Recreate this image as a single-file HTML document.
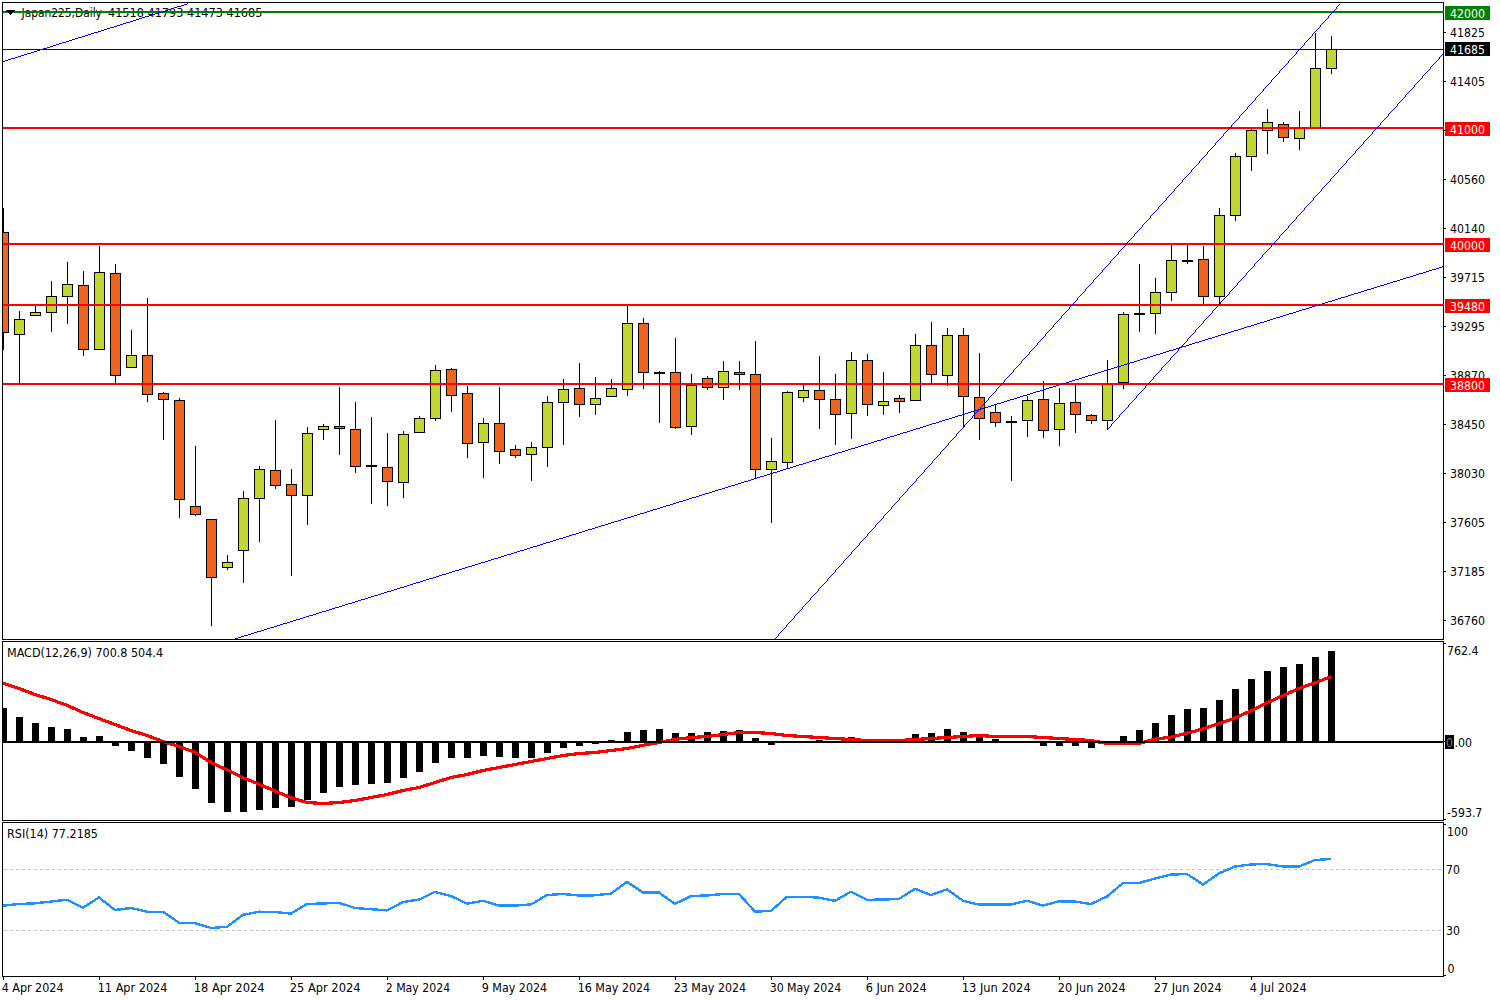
<!DOCTYPE html><html><head><meta charset="utf-8"><title>Japan225,Daily</title><style>html,body{margin:0;padding:0;background:#fff;width:1500px;height:1000px;overflow:hidden}svg{display:block}text{font-family:"DejaVu Sans Condensed", "DejaVu Sans", "Liberation Sans", sans-serif}</style></head><body><svg width="1500" height="1000" viewBox="0 0 1500 1000" shape-rendering="crispEdges" font-family='"DejaVu Sans Condensed", "DejaVu Sans", "Liberation Sans", sans-serif'><defs><clipPath id="cm"><rect x="3" y="3" width="1441" height="636"/></clipPath><clipPath id="cd"><rect x="3" y="642" width="1441" height="178"/></clipPath><clipPath id="cr"><rect x="3" y="823" width="1441" height="153"/></clipPath></defs><rect width="1500" height="1000" fill="#FFFFFF"/><g clip-path="url(#cm)"><rect x="3" y="208" width="1" height="142" fill="#000"/><rect x="-2" y="232" width="11" height="101" fill="#000"/><rect x="-1" y="233" width="9" height="99" fill="#F06421"/><rect x="19" y="311" width="1" height="73" fill="#000"/><rect x="14" y="319" width="11" height="16" fill="#000"/><rect x="15" y="320" width="9" height="14" fill="#C1D833"/><rect x="35" y="305" width="1" height="11" fill="#000"/><rect x="30" y="312" width="11" height="4" fill="#000"/><rect x="31" y="313" width="9" height="2" fill="#C1D833"/><rect x="51" y="281" width="1" height="51" fill="#000"/><rect x="46" y="296" width="11" height="17" fill="#000"/><rect x="47" y="297" width="9" height="15" fill="#C1D833"/><rect x="67" y="262" width="1" height="62" fill="#000"/><rect x="62" y="284" width="11" height="13" fill="#000"/><rect x="63" y="285" width="9" height="11" fill="#C1D833"/><rect x="83" y="271" width="1" height="85" fill="#000"/><rect x="78" y="285" width="11" height="65" fill="#000"/><rect x="79" y="286" width="9" height="63" fill="#F06421"/><rect x="99" y="246" width="1" height="104" fill="#000"/><rect x="94" y="272" width="11" height="78" fill="#000"/><rect x="95" y="273" width="9" height="76" fill="#C1D833"/><rect x="115" y="264" width="1" height="120" fill="#000"/><rect x="110" y="273" width="11" height="103" fill="#000"/><rect x="111" y="274" width="9" height="101" fill="#F06421"/><rect x="131" y="330" width="1" height="38" fill="#000"/><rect x="126" y="355" width="11" height="13" fill="#000"/><rect x="127" y="356" width="9" height="11" fill="#C1D833"/><rect x="147" y="298" width="1" height="104" fill="#000"/><rect x="142" y="355" width="11" height="40" fill="#000"/><rect x="143" y="356" width="9" height="38" fill="#F06421"/><rect x="163" y="392" width="1" height="48" fill="#000"/><rect x="158" y="393" width="11" height="7" fill="#000"/><rect x="159" y="394" width="9" height="5" fill="#F06421"/><rect x="179" y="398" width="1" height="120" fill="#000"/><rect x="174" y="400" width="11" height="100" fill="#000"/><rect x="175" y="401" width="9" height="98" fill="#F06421"/><rect x="195" y="446" width="1" height="70" fill="#000"/><rect x="190" y="506" width="11" height="9" fill="#000"/><rect x="191" y="507" width="9" height="7" fill="#F06421"/><rect x="211" y="519" width="1" height="107" fill="#000"/><rect x="206" y="519" width="11" height="59" fill="#000"/><rect x="207" y="520" width="9" height="57" fill="#F06421"/><rect x="227" y="555" width="1" height="15" fill="#000"/><rect x="222" y="562" width="11" height="6" fill="#000"/><rect x="223" y="563" width="9" height="4" fill="#C1D833"/><rect x="243" y="491" width="1" height="92" fill="#000"/><rect x="238" y="498" width="11" height="53" fill="#000"/><rect x="239" y="499" width="9" height="51" fill="#C1D833"/><rect x="259" y="466" width="1" height="76" fill="#000"/><rect x="254" y="469" width="11" height="30" fill="#000"/><rect x="255" y="470" width="9" height="28" fill="#C1D833"/><rect x="275" y="420" width="1" height="69" fill="#000"/><rect x="270" y="470" width="11" height="16" fill="#000"/><rect x="271" y="471" width="9" height="14" fill="#F06421"/><rect x="291" y="469" width="1" height="107" fill="#000"/><rect x="286" y="484" width="11" height="12" fill="#000"/><rect x="287" y="485" width="9" height="10" fill="#F06421"/><rect x="307" y="427" width="1" height="98" fill="#000"/><rect x="302" y="433" width="11" height="63" fill="#000"/><rect x="303" y="434" width="9" height="61" fill="#C1D833"/><rect x="323" y="424" width="1" height="16" fill="#000"/><rect x="318" y="426" width="11" height="4" fill="#000"/><rect x="319" y="427" width="9" height="2" fill="#C1D833"/><rect x="339" y="387" width="1" height="68" fill="#000"/><rect x="334" y="426" width="11" height="3" fill="#000"/><rect x="335" y="427" width="9" height="1" fill="#F06421"/><rect x="355" y="402" width="1" height="71" fill="#000"/><rect x="350" y="429" width="11" height="38" fill="#000"/><rect x="351" y="430" width="9" height="36" fill="#F06421"/><rect x="371" y="417" width="1" height="87" fill="#000"/><rect x="366" y="465" width="11" height="2" fill="#000"/><rect x="387" y="433" width="1" height="73" fill="#000"/><rect x="382" y="467" width="11" height="15" fill="#000"/><rect x="383" y="468" width="9" height="13" fill="#F06421"/><rect x="403" y="431" width="1" height="67" fill="#000"/><rect x="398" y="434" width="11" height="49" fill="#000"/><rect x="399" y="435" width="9" height="47" fill="#C1D833"/><rect x="419" y="416" width="1" height="17" fill="#000"/><rect x="414" y="418" width="11" height="15" fill="#000"/><rect x="415" y="419" width="9" height="13" fill="#C1D833"/><rect x="435" y="365" width="1" height="56" fill="#000"/><rect x="430" y="370" width="11" height="49" fill="#000"/><rect x="431" y="371" width="9" height="47" fill="#C1D833"/><rect x="451" y="368" width="1" height="44" fill="#000"/><rect x="446" y="369" width="11" height="27" fill="#000"/><rect x="447" y="370" width="9" height="25" fill="#F06421"/><rect x="467" y="386" width="1" height="72" fill="#000"/><rect x="462" y="393" width="11" height="51" fill="#000"/><rect x="463" y="394" width="9" height="49" fill="#F06421"/><rect x="483" y="418" width="1" height="60" fill="#000"/><rect x="478" y="423" width="11" height="20" fill="#000"/><rect x="479" y="424" width="9" height="18" fill="#C1D833"/><rect x="499" y="387" width="1" height="77" fill="#000"/><rect x="494" y="423" width="11" height="29" fill="#000"/><rect x="495" y="424" width="9" height="27" fill="#F06421"/><rect x="515" y="445" width="1" height="13" fill="#000"/><rect x="510" y="449" width="11" height="7" fill="#000"/><rect x="511" y="450" width="9" height="5" fill="#F06421"/><rect x="531" y="442" width="1" height="39" fill="#000"/><rect x="526" y="447" width="11" height="8" fill="#000"/><rect x="527" y="448" width="9" height="6" fill="#C1D833"/><rect x="547" y="396" width="1" height="71" fill="#000"/><rect x="542" y="402" width="11" height="46" fill="#000"/><rect x="543" y="403" width="9" height="44" fill="#C1D833"/><rect x="563" y="379" width="1" height="66" fill="#000"/><rect x="558" y="389" width="11" height="14" fill="#000"/><rect x="559" y="390" width="9" height="12" fill="#C1D833"/><rect x="579" y="363" width="1" height="54" fill="#000"/><rect x="574" y="388" width="11" height="17" fill="#000"/><rect x="575" y="389" width="9" height="15" fill="#F06421"/><rect x="595" y="377" width="1" height="38" fill="#000"/><rect x="590" y="398" width="11" height="7" fill="#000"/><rect x="591" y="399" width="9" height="5" fill="#C1D833"/><rect x="611" y="379" width="1" height="18" fill="#000"/><rect x="606" y="388" width="11" height="9" fill="#000"/><rect x="607" y="389" width="9" height="7" fill="#C1D833"/><rect x="627" y="306" width="1" height="90" fill="#000"/><rect x="622" y="323" width="11" height="67" fill="#000"/><rect x="623" y="324" width="9" height="65" fill="#C1D833"/><rect x="643" y="318" width="1" height="71" fill="#000"/><rect x="638" y="323" width="11" height="50" fill="#000"/><rect x="639" y="324" width="9" height="48" fill="#F06421"/><rect x="659" y="371" width="1" height="52" fill="#000"/><rect x="654" y="372" width="11" height="2" fill="#000"/><rect x="675" y="338" width="1" height="91" fill="#000"/><rect x="670" y="372" width="11" height="56" fill="#000"/><rect x="671" y="373" width="9" height="54" fill="#F06421"/><rect x="691" y="374" width="1" height="61" fill="#000"/><rect x="686" y="385" width="11" height="42" fill="#000"/><rect x="687" y="386" width="9" height="40" fill="#C1D833"/><rect x="707" y="376" width="1" height="14" fill="#000"/><rect x="702" y="378" width="11" height="10" fill="#000"/><rect x="703" y="379" width="9" height="8" fill="#F06421"/><rect x="723" y="361" width="1" height="39" fill="#000"/><rect x="718" y="371" width="11" height="17" fill="#000"/><rect x="719" y="372" width="9" height="15" fill="#C1D833"/><rect x="739" y="361" width="1" height="29" fill="#000"/><rect x="734" y="372" width="11" height="3" fill="#000"/><rect x="735" y="373" width="9" height="1" fill="#F06421"/><rect x="755" y="341" width="1" height="138" fill="#000"/><rect x="750" y="374" width="11" height="96" fill="#000"/><rect x="751" y="375" width="9" height="94" fill="#F06421"/><rect x="771" y="438" width="1" height="85" fill="#000"/><rect x="766" y="461" width="11" height="9" fill="#000"/><rect x="767" y="462" width="9" height="7" fill="#C1D833"/><rect x="787" y="391" width="1" height="78" fill="#000"/><rect x="782" y="392" width="11" height="71" fill="#000"/><rect x="783" y="393" width="9" height="69" fill="#C1D833"/><rect x="803" y="385" width="1" height="17" fill="#000"/><rect x="798" y="390" width="11" height="8" fill="#000"/><rect x="799" y="391" width="9" height="6" fill="#C1D833"/><rect x="819" y="356" width="1" height="73" fill="#000"/><rect x="814" y="390" width="11" height="10" fill="#000"/><rect x="815" y="391" width="9" height="8" fill="#F06421"/><rect x="835" y="374" width="1" height="71" fill="#000"/><rect x="830" y="399" width="11" height="16" fill="#000"/><rect x="831" y="400" width="9" height="14" fill="#F06421"/><rect x="851" y="352" width="1" height="87" fill="#000"/><rect x="846" y="360" width="11" height="54" fill="#000"/><rect x="847" y="361" width="9" height="52" fill="#C1D833"/><rect x="867" y="354" width="1" height="62" fill="#000"/><rect x="862" y="360" width="11" height="45" fill="#000"/><rect x="863" y="361" width="9" height="43" fill="#F06421"/><rect x="883" y="372" width="1" height="43" fill="#000"/><rect x="878" y="401" width="11" height="5" fill="#000"/><rect x="879" y="402" width="9" height="3" fill="#C1D833"/><rect x="899" y="395" width="1" height="18" fill="#000"/><rect x="894" y="398" width="11" height="4" fill="#000"/><rect x="895" y="399" width="9" height="2" fill="#F06421"/><rect x="915" y="334" width="1" height="67" fill="#000"/><rect x="910" y="345" width="11" height="56" fill="#000"/><rect x="911" y="346" width="9" height="54" fill="#C1D833"/><rect x="931" y="322" width="1" height="61" fill="#000"/><rect x="926" y="345" width="11" height="30" fill="#000"/><rect x="927" y="346" width="9" height="28" fill="#F06421"/><rect x="947" y="328" width="1" height="58" fill="#000"/><rect x="942" y="335" width="11" height="41" fill="#000"/><rect x="943" y="336" width="9" height="39" fill="#C1D833"/><rect x="963" y="328" width="1" height="100" fill="#000"/><rect x="958" y="335" width="11" height="62" fill="#000"/><rect x="959" y="336" width="9" height="60" fill="#F06421"/><rect x="979" y="353" width="1" height="87" fill="#000"/><rect x="974" y="397" width="11" height="22" fill="#000"/><rect x="975" y="398" width="9" height="20" fill="#F06421"/><rect x="995" y="404" width="1" height="23" fill="#000"/><rect x="990" y="412" width="11" height="11" fill="#000"/><rect x="991" y="413" width="9" height="9" fill="#F06421"/><rect x="1011" y="416" width="1" height="65" fill="#000"/><rect x="1006" y="421" width="11" height="2" fill="#000"/><rect x="1027" y="396" width="1" height="41" fill="#000"/><rect x="1022" y="400" width="11" height="21" fill="#000"/><rect x="1023" y="401" width="9" height="19" fill="#C1D833"/><rect x="1043" y="381" width="1" height="57" fill="#000"/><rect x="1038" y="399" width="11" height="32" fill="#000"/><rect x="1039" y="400" width="9" height="30" fill="#F06421"/><rect x="1059" y="388" width="1" height="58" fill="#000"/><rect x="1054" y="403" width="11" height="27" fill="#000"/><rect x="1055" y="404" width="9" height="25" fill="#C1D833"/><rect x="1075" y="385" width="1" height="48" fill="#000"/><rect x="1070" y="402" width="11" height="13" fill="#000"/><rect x="1071" y="403" width="9" height="11" fill="#F06421"/><rect x="1091" y="414" width="1" height="10" fill="#000"/><rect x="1086" y="415" width="11" height="6" fill="#000"/><rect x="1087" y="416" width="9" height="4" fill="#F06421"/><rect x="1107" y="360" width="1" height="69" fill="#000"/><rect x="1102" y="384" width="11" height="37" fill="#000"/><rect x="1103" y="385" width="9" height="35" fill="#C1D833"/><rect x="1123" y="312" width="1" height="77" fill="#000"/><rect x="1118" y="314" width="11" height="69" fill="#000"/><rect x="1119" y="315" width="9" height="67" fill="#C1D833"/><rect x="1139" y="264" width="1" height="68" fill="#000"/><rect x="1134" y="313" width="11" height="2" fill="#000"/><rect x="1155" y="278" width="1" height="56" fill="#000"/><rect x="1150" y="292" width="11" height="22" fill="#000"/><rect x="1151" y="293" width="9" height="20" fill="#C1D833"/><rect x="1171" y="245" width="1" height="56" fill="#000"/><rect x="1166" y="260" width="11" height="33" fill="#000"/><rect x="1167" y="261" width="9" height="31" fill="#C1D833"/><rect x="1187" y="245" width="1" height="19" fill="#000"/><rect x="1182" y="260" width="11" height="2" fill="#000"/><rect x="1203" y="246" width="1" height="59" fill="#000"/><rect x="1198" y="259" width="11" height="38" fill="#000"/><rect x="1199" y="260" width="9" height="36" fill="#F06421"/><rect x="1219" y="208" width="1" height="97" fill="#000"/><rect x="1214" y="215" width="11" height="82" fill="#000"/><rect x="1215" y="216" width="9" height="80" fill="#C1D833"/><rect x="1235" y="153" width="1" height="68" fill="#000"/><rect x="1230" y="156" width="11" height="60" fill="#000"/><rect x="1231" y="157" width="9" height="58" fill="#C1D833"/><rect x="1251" y="129" width="1" height="42" fill="#000"/><rect x="1246" y="130" width="11" height="27" fill="#000"/><rect x="1247" y="131" width="9" height="25" fill="#C1D833"/><rect x="1267" y="109" width="1" height="45" fill="#000"/><rect x="1262" y="122" width="11" height="9" fill="#000"/><rect x="1263" y="123" width="9" height="7" fill="#C1D833"/><rect x="1283" y="122" width="1" height="20" fill="#000"/><rect x="1278" y="124" width="11" height="14" fill="#000"/><rect x="1279" y="125" width="9" height="12" fill="#F06421"/><rect x="1299" y="111" width="1" height="39" fill="#000"/><rect x="1294" y="128" width="11" height="11" fill="#000"/><rect x="1295" y="129" width="9" height="9" fill="#C1D833"/><rect x="1315" y="33" width="1" height="95" fill="#000"/><rect x="1310" y="68" width="11" height="60" fill="#000"/><rect x="1311" y="69" width="9" height="58" fill="#C1D833"/><rect x="1331" y="36" width="1" height="38" fill="#000"/><rect x="1326" y="49" width="11" height="20" fill="#000"/><rect x="1327" y="50" width="9" height="18" fill="#C1D833"/>
<text x="21.5" y="17" fill="#000" font-size="12.2" textLength="80.4" lengthAdjust="spacingAndGlyphs">Japan225,Daily</text>
<text x="108" y="17" fill="#000" font-size="12.2" textLength="154.4" lengthAdjust="spacingAndGlyphs">41518 41793 41473 41685</text>
<rect x="3" y="11" width="1441" height="2" fill="#008000"/>
<rect x="3" y="49" width="1441" height="1" fill="#000080"/>
<rect x="3" y="127" width="1441" height="2" fill="#FF0000"/>
<rect x="3" y="243" width="1441" height="2" fill="#FF0000"/>
<rect x="3" y="304" width="1441" height="2" fill="#FF0000"/>
<rect x="3" y="383" width="1441" height="2" fill="#FF0000"/>
<path fill="#0000FF" d="M235 638h3v1h-3zM238 637h3v1h-3zM241 636h3v1h-3zM244 635h4v1h-4zM248 634h3v1h-3zM251 633h3v1h-3zM254 632h3v1h-3zM257 631h4v1h-4zM261 630h3v1h-3zM264 629h3v1h-3zM267 628h3v1h-3zM270 627h4v1h-4zM274 626h3v1h-3zM277 625h3v1h-3zM280 624h3v1h-3zM283 623h4v1h-4zM287 622h3v1h-3zM290 621h3v1h-3zM293 620h3v1h-3zM296 619h4v1h-4zM300 618h3v1h-3zM303 617h3v1h-3zM306 616h3v1h-3zM309 615h4v1h-4zM313 614h3v1h-3zM316 613h3v1h-3zM319 612h3v1h-3zM322 611h4v1h-4zM326 610h3v1h-3zM329 609h3v1h-3zM332 608h3v1h-3zM335 607h4v1h-4zM339 606h3v1h-3zM342 605h3v1h-3zM345 604h3v1h-3zM348 603h4v1h-4zM352 602h3v1h-3zM355 601h3v1h-3zM358 600h3v1h-3zM361 599h4v1h-4zM365 598h3v1h-3zM368 597h3v1h-3zM371 596h3v1h-3zM374 595h4v1h-4zM378 594h3v1h-3zM381 593h3v1h-3zM384 592h3v1h-3zM387 591h4v1h-4zM391 590h3v1h-3zM394 589h3v1h-3zM397 588h3v1h-3zM400 587h4v1h-4zM404 586h3v1h-3zM407 585h3v1h-3zM410 584h3v1h-3zM413 583h3v1h-3zM416 582h4v1h-4zM420 581h3v1h-3zM423 580h3v1h-3zM426 579h3v1h-3zM429 578h4v1h-4zM433 577h3v1h-3zM436 576h3v1h-3zM439 575h3v1h-3zM442 574h4v1h-4zM446 573h3v1h-3zM449 572h3v1h-3zM452 571h3v1h-3zM455 570h4v1h-4zM459 569h3v1h-3zM462 568h3v1h-3zM465 567h3v1h-3zM468 566h4v1h-4zM472 565h3v1h-3zM475 564h3v1h-3zM478 563h3v1h-3zM481 562h4v1h-4zM485 561h3v1h-3zM488 560h3v1h-3zM491 559h3v1h-3zM494 558h4v1h-4zM498 557h3v1h-3zM501 556h3v1h-3zM504 555h3v1h-3zM507 554h4v1h-4zM511 553h3v1h-3zM514 552h3v1h-3zM517 551h3v1h-3zM520 550h4v1h-4zM524 549h3v1h-3zM527 548h3v1h-3zM530 547h3v1h-3zM533 546h4v1h-4zM537 545h3v1h-3zM540 544h3v1h-3zM543 543h3v1h-3zM546 542h4v1h-4zM550 541h3v1h-3zM553 540h3v1h-3zM556 539h3v1h-3zM559 538h4v1h-4zM563 537h3v1h-3zM566 536h3v1h-3zM569 535h3v1h-3zM572 534h4v1h-4zM576 533h3v1h-3zM579 532h3v1h-3zM582 531h3v1h-3zM585 530h3v1h-3zM588 529h4v1h-4zM592 528h3v1h-3zM595 527h3v1h-3zM598 526h3v1h-3zM601 525h4v1h-4zM605 524h3v1h-3zM608 523h3v1h-3zM611 522h3v1h-3zM614 521h4v1h-4zM618 520h3v1h-3zM621 519h3v1h-3zM624 518h3v1h-3zM627 517h4v1h-4zM631 516h3v1h-3zM634 515h3v1h-3zM637 514h3v1h-3zM640 513h4v1h-4zM644 512h3v1h-3zM647 511h3v1h-3zM650 510h3v1h-3zM653 509h4v1h-4zM657 508h3v1h-3zM660 507h3v1h-3zM663 506h3v1h-3zM666 505h4v1h-4zM670 504h3v1h-3zM673 503h3v1h-3zM676 502h3v1h-3zM679 501h4v1h-4zM683 500h3v1h-3zM686 499h3v1h-3zM689 498h3v1h-3zM692 497h4v1h-4zM696 496h3v1h-3zM699 495h3v1h-3zM702 494h3v1h-3zM705 493h4v1h-4zM709 492h3v1h-3zM712 491h3v1h-3zM715 490h3v1h-3zM718 489h4v1h-4zM722 488h3v1h-3zM725 487h3v1h-3zM728 486h3v1h-3zM731 485h4v1h-4zM735 484h3v1h-3zM738 483h3v1h-3zM741 482h3v1h-3zM744 481h4v1h-4zM748 480h3v1h-3zM751 479h3v1h-3zM754 478h3v1h-3zM757 477h3v1h-3zM760 476h4v1h-4zM764 475h3v1h-3zM767 474h3v1h-3zM770 473h3v1h-3zM773 472h4v1h-4zM777 471h3v1h-3zM780 470h3v1h-3zM783 469h3v1h-3zM786 468h4v1h-4zM790 467h3v1h-3zM793 466h3v1h-3zM796 465h3v1h-3zM799 464h4v1h-4zM803 463h3v1h-3zM806 462h3v1h-3zM809 461h3v1h-3zM812 460h4v1h-4zM816 459h3v1h-3zM819 458h3v1h-3zM822 457h3v1h-3zM825 456h4v1h-4zM829 455h3v1h-3zM832 454h3v1h-3zM835 453h3v1h-3zM838 452h4v1h-4zM842 451h3v1h-3zM845 450h3v1h-3zM848 449h3v1h-3zM851 448h4v1h-4zM855 447h3v1h-3zM858 446h3v1h-3zM861 445h3v1h-3zM864 444h4v1h-4zM868 443h3v1h-3zM871 442h3v1h-3zM874 441h3v1h-3zM877 440h4v1h-4zM881 439h3v1h-3zM884 438h3v1h-3zM887 437h3v1h-3zM890 436h4v1h-4zM894 435h3v1h-3zM897 434h3v1h-3zM900 433h3v1h-3zM903 432h4v1h-4zM907 431h3v1h-3zM910 430h3v1h-3zM913 429h3v1h-3zM916 428h4v1h-4zM920 427h3v1h-3zM923 426h3v1h-3zM926 425h3v1h-3zM929 424h3v1h-3zM932 423h4v1h-4zM936 422h3v1h-3zM939 421h3v1h-3zM942 420h3v1h-3zM945 419h4v1h-4zM949 418h3v1h-3zM952 417h3v1h-3zM955 416h3v1h-3zM958 415h4v1h-4zM962 414h3v1h-3zM965 413h3v1h-3zM968 412h3v1h-3zM971 411h4v1h-4zM975 410h3v1h-3zM978 409h3v1h-3zM981 408h3v1h-3zM984 407h4v1h-4zM988 406h3v1h-3zM991 405h3v1h-3zM994 404h3v1h-3zM997 403h4v1h-4zM1001 402h3v1h-3zM1004 401h3v1h-3zM1007 400h3v1h-3zM1010 399h4v1h-4zM1014 398h3v1h-3zM1017 397h3v1h-3zM1020 396h3v1h-3zM1023 395h4v1h-4zM1027 394h3v1h-3zM1030 393h3v1h-3zM1033 392h3v1h-3zM1036 391h4v1h-4zM1040 390h3v1h-3zM1043 389h3v1h-3zM1046 388h3v1h-3zM1049 387h4v1h-4zM1053 386h3v1h-3zM1056 385h3v1h-3zM1059 384h3v1h-3zM1062 383h4v1h-4zM1066 382h3v1h-3zM1069 381h3v1h-3zM1072 380h3v1h-3zM1075 379h4v1h-4zM1079 378h3v1h-3zM1082 377h3v1h-3zM1085 376h3v1h-3zM1088 375h4v1h-4zM1092 374h3v1h-3zM1095 373h3v1h-3zM1098 372h3v1h-3zM1101 371h3v1h-3zM1104 370h4v1h-4zM1108 369h3v1h-3zM1111 368h3v1h-3zM1114 367h3v1h-3zM1117 366h4v1h-4zM1121 365h3v1h-3zM1124 364h3v1h-3zM1127 363h3v1h-3zM1130 362h4v1h-4zM1134 361h3v1h-3zM1137 360h3v1h-3zM1140 359h3v1h-3zM1143 358h4v1h-4zM1147 357h3v1h-3zM1150 356h3v1h-3zM1153 355h3v1h-3zM1156 354h4v1h-4zM1160 353h3v1h-3zM1163 352h3v1h-3zM1166 351h3v1h-3zM1169 350h4v1h-4zM1173 349h3v1h-3zM1176 348h3v1h-3zM1179 347h3v1h-3zM1182 346h4v1h-4zM1186 345h3v1h-3zM1189 344h3v1h-3zM1192 343h3v1h-3zM1195 342h4v1h-4zM1199 341h3v1h-3zM1202 340h3v1h-3zM1205 339h3v1h-3zM1208 338h4v1h-4zM1212 337h3v1h-3zM1215 336h3v1h-3zM1218 335h3v1h-3zM1221 334h4v1h-4zM1225 333h3v1h-3zM1228 332h3v1h-3zM1231 331h3v1h-3zM1234 330h4v1h-4zM1238 329h3v1h-3zM1241 328h3v1h-3zM1244 327h3v1h-3zM1247 326h4v1h-4zM1251 325h3v1h-3zM1254 324h3v1h-3zM1257 323h3v1h-3zM1260 322h4v1h-4zM1264 321h3v1h-3zM1267 320h3v1h-3zM1270 319h3v1h-3zM1273 318h3v1h-3zM1276 317h4v1h-4zM1280 316h3v1h-3zM1283 315h3v1h-3zM1286 314h3v1h-3zM1289 313h4v1h-4zM1293 312h3v1h-3zM1296 311h3v1h-3zM1299 310h3v1h-3zM1302 309h4v1h-4zM1306 308h3v1h-3zM1309 307h3v1h-3zM1312 306h3v1h-3zM1315 305h4v1h-4zM1319 304h3v1h-3zM1322 303h3v1h-3zM1325 302h3v1h-3zM1328 301h4v1h-4zM1332 300h3v1h-3zM1335 299h3v1h-3zM1338 298h3v1h-3zM1341 297h4v1h-4zM1345 296h3v1h-3zM1348 295h3v1h-3zM1351 294h3v1h-3zM1354 293h4v1h-4zM1358 292h3v1h-3zM1361 291h3v1h-3zM1364 290h3v1h-3zM1367 289h4v1h-4zM1371 288h3v1h-3zM1374 287h3v1h-3zM1377 286h3v1h-3zM1380 285h4v1h-4zM1384 284h3v1h-3zM1387 283h3v1h-3zM1390 282h3v1h-3zM1393 281h4v1h-4zM1397 280h3v1h-3zM1400 279h3v1h-3zM1403 278h3v1h-3zM1406 277h4v1h-4zM1410 276h3v1h-3zM1413 275h3v1h-3zM1416 274h3v1h-3zM1419 273h4v1h-4zM1423 272h3v1h-3zM1426 271h3v1h-3zM1429 270h3v1h-3zM1432 269h4v1h-4zM1436 268h3v1h-3zM1439 267h3v1h-3zM1442 266h1v1h-1zM3 61h2v1h-2zM5 60h3v1h-3zM8 59h3v1h-3zM11 58h4v1h-4zM15 57h3v1h-3zM18 56h3v1h-3zM21 55h3v1h-3zM24 54h3v1h-3zM27 53h4v1h-4zM31 52h3v1h-3zM34 51h3v1h-3zM37 50h3v1h-3zM40 49h3v1h-3zM43 48h4v1h-4zM47 47h3v1h-3zM50 46h3v1h-3zM53 45h3v1h-3zM56 44h3v1h-3zM59 43h3v1h-3zM62 42h4v1h-4zM66 41h3v1h-3zM69 40h3v1h-3zM72 39h3v1h-3zM75 38h3v1h-3zM78 37h4v1h-4zM82 36h3v1h-3zM85 35h3v1h-3zM88 34h3v1h-3zM91 33h3v1h-3zM94 32h4v1h-4zM98 31h3v1h-3zM101 30h3v1h-3zM104 29h3v1h-3zM107 28h3v1h-3zM110 27h4v1h-4zM114 26h3v1h-3zM117 25h3v1h-3zM120 24h3v1h-3zM123 23h3v1h-3zM126 22h4v1h-4zM130 21h3v1h-3zM133 20h3v1h-3zM136 19h3v1h-3zM139 18h3v1h-3zM142 17h3v1h-3zM145 16h4v1h-4zM149 15h3v1h-3zM152 14h3v1h-3zM155 13h3v1h-3zM158 12h3v1h-3zM161 11h4v1h-4zM165 10h3v1h-3zM168 9h3v1h-3zM171 8h3v1h-3zM174 7h3v1h-3zM177 6h4v1h-4zM181 5h3v1h-3zM184 4h3v1h-3zM187 3h1v1h-1zM1339 4h1v1h-1zM1338 5h1v1h-1zM1337 6h1v1h-1zM1336 7h1v2h-1zM1335 9h1v1h-1zM1334 10h1v1h-1zM1333 11h1v1h-1zM1332 12h1v1h-1zM1331 13h1v1h-1zM1330 14h1v1h-1zM1329 15h1v1h-1zM1328 16h1v2h-1zM1327 18h1v1h-1zM1326 19h1v1h-1zM1325 20h1v1h-1zM1324 21h1v1h-1zM1323 22h1v1h-1zM1322 23h1v1h-1zM1321 24h1v1h-1zM1320 25h1v2h-1zM1319 27h1v1h-1zM1318 28h1v1h-1zM1317 29h1v1h-1zM1316 30h1v1h-1zM1315 31h1v1h-1zM1314 32h1v1h-1zM1313 33h1v1h-1zM1312 34h1v2h-1zM1311 36h1v1h-1zM1310 37h1v1h-1zM1309 38h1v1h-1zM1308 39h1v1h-1zM1307 40h1v1h-1zM1306 41h1v1h-1zM1305 42h1v1h-1zM1304 43h1v2h-1zM1303 45h1v1h-1zM1302 46h1v1h-1zM1301 47h1v1h-1zM1300 48h1v1h-1zM1299 49h1v1h-1zM1298 50h1v1h-1zM1297 51h1v1h-1zM1296 52h1v2h-1zM1295 54h1v1h-1zM1294 55h1v1h-1zM1293 56h1v1h-1zM1292 57h1v1h-1zM1291 58h1v1h-1zM1290 59h1v1h-1zM1289 60h1v1h-1zM1288 61h1v2h-1zM1287 63h1v1h-1zM1286 64h1v1h-1zM1285 65h1v1h-1zM1284 66h1v1h-1zM1283 67h1v1h-1zM1282 68h1v1h-1zM1281 69h1v1h-1zM1280 70h1v1h-1zM1279 71h1v2h-1zM1278 73h1v1h-1zM1277 74h1v1h-1zM1276 75h1v1h-1zM1275 76h1v1h-1zM1274 77h1v1h-1zM1273 78h1v1h-1zM1272 79h1v1h-1zM1271 80h1v2h-1zM1270 82h1v1h-1zM1269 83h1v1h-1zM1268 84h1v1h-1zM1267 85h1v1h-1zM1266 86h1v1h-1zM1265 87h1v1h-1zM1264 88h1v1h-1zM1263 89h1v2h-1zM1262 91h1v1h-1zM1261 92h1v1h-1zM1260 93h1v1h-1zM1259 94h1v1h-1zM1258 95h1v1h-1zM1257 96h1v1h-1zM1256 97h1v1h-1zM1255 98h1v2h-1zM1254 100h1v1h-1zM1253 101h1v1h-1zM1252 102h1v1h-1zM1251 103h1v1h-1zM1250 104h1v1h-1zM1249 105h1v1h-1zM1248 106h1v1h-1zM1247 107h1v2h-1zM1246 109h1v1h-1zM1245 110h1v1h-1zM1244 111h1v1h-1zM1243 112h1v1h-1zM1242 113h1v1h-1zM1241 114h1v1h-1zM1240 115h1v1h-1zM1239 116h1v2h-1zM1238 118h1v1h-1zM1237 119h1v1h-1zM1236 120h1v1h-1zM1235 121h1v1h-1zM1234 122h1v1h-1zM1233 123h1v1h-1zM1232 124h1v1h-1zM1231 125h1v2h-1zM1230 127h1v1h-1zM1229 128h1v1h-1zM1228 129h1v1h-1zM1227 130h1v1h-1zM1226 131h1v1h-1zM1225 132h1v1h-1zM1224 133h1v1h-1zM1223 134h1v2h-1zM1222 136h1v1h-1zM1221 137h1v1h-1zM1220 138h1v1h-1zM1219 139h1v1h-1zM1218 140h1v1h-1zM1217 141h1v1h-1zM1216 142h1v1h-1zM1215 143h1v2h-1zM1214 145h1v1h-1zM1213 146h1v1h-1zM1212 147h1v1h-1zM1211 148h1v1h-1zM1210 149h1v1h-1zM1209 150h1v1h-1zM1208 151h1v1h-1zM1207 152h1v2h-1zM1206 154h1v1h-1zM1205 155h1v1h-1zM1204 156h1v1h-1zM1203 157h1v1h-1zM1202 158h1v1h-1zM1201 159h1v1h-1zM1200 160h1v1h-1zM1199 161h1v2h-1zM1198 163h1v1h-1zM1197 164h1v1h-1zM1196 165h1v1h-1zM1195 166h1v1h-1zM1194 167h1v1h-1zM1193 168h1v1h-1zM1192 169h1v1h-1zM1191 170h1v2h-1zM1190 172h1v1h-1zM1189 173h1v1h-1zM1188 174h1v1h-1zM1187 175h1v1h-1zM1186 176h1v1h-1zM1185 177h1v1h-1zM1184 178h1v1h-1zM1183 179h1v1h-1zM1182 180h1v2h-1zM1181 182h1v1h-1zM1180 183h1v1h-1zM1179 184h1v1h-1zM1178 185h1v1h-1zM1177 186h1v1h-1zM1176 187h1v1h-1zM1175 188h1v1h-1zM1174 189h1v2h-1zM1173 191h1v1h-1zM1172 192h1v1h-1zM1171 193h1v1h-1zM1170 194h1v1h-1zM1169 195h1v1h-1zM1168 196h1v1h-1zM1167 197h1v1h-1zM1166 198h1v2h-1zM1165 200h1v1h-1zM1164 201h1v1h-1zM1163 202h1v1h-1zM1162 203h1v1h-1zM1161 204h1v1h-1zM1160 205h1v1h-1zM1159 206h1v1h-1zM1158 207h1v2h-1zM1157 209h1v1h-1zM1156 210h1v1h-1zM1155 211h1v1h-1zM1154 212h1v1h-1zM1153 213h1v1h-1zM1152 214h1v1h-1zM1151 215h1v1h-1zM1150 216h1v2h-1zM1149 218h1v1h-1zM1148 219h1v1h-1zM1147 220h1v1h-1zM1146 221h1v1h-1zM1145 222h1v1h-1zM1144 223h1v1h-1zM1143 224h1v1h-1zM1142 225h1v2h-1zM1141 227h1v1h-1zM1140 228h1v1h-1zM1139 229h1v1h-1zM1138 230h1v1h-1zM1137 231h1v1h-1zM1136 232h1v1h-1zM1135 233h1v1h-1zM1134 234h1v2h-1zM1133 236h1v1h-1zM1132 237h1v1h-1zM1131 238h1v1h-1zM1130 239h1v1h-1zM1129 240h1v1h-1zM1128 241h1v1h-1zM1127 242h1v1h-1zM1126 243h1v2h-1zM1125 245h1v1h-1zM1124 246h1v1h-1zM1123 247h1v1h-1zM1122 248h1v1h-1zM1121 249h1v1h-1zM1120 250h1v1h-1zM1119 251h1v1h-1zM1118 252h1v2h-1zM1117 254h1v1h-1zM1116 255h1v1h-1zM1115 256h1v1h-1zM1114 257h1v1h-1zM1113 258h1v1h-1zM1112 259h1v1h-1zM1111 260h1v1h-1zM1110 261h1v2h-1zM1109 263h1v1h-1zM1108 264h1v1h-1zM1107 265h1v1h-1zM1106 266h1v1h-1zM1105 267h1v1h-1zM1104 268h1v1h-1zM1103 269h1v1h-1zM1102 270h1v2h-1zM1101 272h1v1h-1zM1100 273h1v1h-1zM1099 274h1v1h-1zM1098 275h1v1h-1zM1097 276h1v1h-1zM1096 277h1v1h-1zM1095 278h1v1h-1zM1094 279h1v1h-1zM1093 280h1v2h-1zM1092 282h1v1h-1zM1091 283h1v1h-1zM1090 284h1v1h-1zM1089 285h1v1h-1zM1088 286h1v1h-1zM1087 287h1v1h-1zM1086 288h1v1h-1zM1085 289h1v2h-1zM1084 291h1v1h-1zM1083 292h1v1h-1zM1082 293h1v1h-1zM1081 294h1v1h-1zM1080 295h1v1h-1zM1079 296h1v1h-1zM1078 297h1v1h-1zM1077 298h1v2h-1zM1076 300h1v1h-1zM1075 301h1v1h-1zM1074 302h1v1h-1zM1073 303h1v1h-1zM1072 304h1v1h-1zM1071 305h1v1h-1zM1070 306h1v1h-1zM1069 307h1v2h-1zM1068 309h1v1h-1zM1067 310h1v1h-1zM1066 311h1v1h-1zM1065 312h1v1h-1zM1064 313h1v1h-1zM1063 314h1v1h-1zM1062 315h1v1h-1zM1061 316h1v2h-1zM1060 318h1v1h-1zM1059 319h1v1h-1zM1058 320h1v1h-1zM1057 321h1v1h-1zM1056 322h1v1h-1zM1055 323h1v1h-1zM1054 324h1v1h-1zM1053 325h1v2h-1zM1052 327h1v1h-1zM1051 328h1v1h-1zM1050 329h1v1h-1zM1049 330h1v1h-1zM1048 331h1v1h-1zM1047 332h1v1h-1zM1046 333h1v1h-1zM1045 334h1v2h-1zM1044 336h1v1h-1zM1043 337h1v1h-1zM1042 338h1v1h-1zM1041 339h1v1h-1zM1040 340h1v1h-1zM1039 341h1v1h-1zM1038 342h1v1h-1zM1037 343h1v2h-1zM1036 345h1v1h-1zM1035 346h1v1h-1zM1034 347h1v1h-1zM1033 348h1v1h-1zM1032 349h1v1h-1zM1031 350h1v1h-1zM1030 351h1v1h-1zM1029 352h1v2h-1zM1028 354h1v1h-1zM1027 355h1v1h-1zM1026 356h1v1h-1zM1025 357h1v1h-1zM1024 358h1v1h-1zM1023 359h1v1h-1zM1022 360h1v1h-1zM1021 361h1v2h-1zM1020 363h1v1h-1zM1019 364h1v1h-1zM1018 365h1v1h-1zM1017 366h1v1h-1zM1016 367h1v1h-1zM1015 368h1v1h-1zM1014 369h1v1h-1zM1013 370h1v2h-1zM1012 372h1v1h-1zM1011 373h1v1h-1zM1010 374h1v1h-1zM1009 375h1v1h-1zM1008 376h1v1h-1zM1007 377h1v1h-1zM1006 378h1v1h-1zM1005 379h1v1h-1zM1004 380h1v2h-1zM1003 382h1v1h-1zM1002 383h1v1h-1zM1001 384h1v1h-1zM1000 385h1v1h-1zM999 386h1v1h-1zM998 387h1v1h-1zM997 388h1v1h-1zM996 389h1v2h-1zM995 391h1v1h-1zM994 392h1v1h-1zM993 393h1v1h-1zM992 394h1v1h-1zM991 395h1v1h-1zM990 396h1v1h-1zM989 397h1v1h-1zM988 398h1v2h-1zM987 400h1v1h-1zM986 401h1v1h-1zM985 402h1v1h-1zM984 403h1v1h-1zM983 404h1v1h-1zM982 405h1v1h-1zM981 406h1v1h-1zM980 407h1v2h-1zM979 409h1v1h-1zM978 410h1v1h-1zM977 411h1v1h-1zM976 412h1v1h-1zM975 413h1v1h-1zM974 414h1v1h-1zM973 415h1v1h-1zM972 416h1v2h-1zM971 418h1v1h-1zM970 419h1v1h-1zM969 420h1v1h-1zM968 421h1v1h-1zM967 422h1v1h-1zM966 423h1v1h-1zM965 424h1v1h-1zM964 425h1v2h-1zM963 427h1v1h-1zM962 428h1v1h-1zM961 429h1v1h-1zM960 430h1v1h-1zM959 431h1v1h-1zM958 432h1v1h-1zM957 433h1v1h-1zM956 434h1v2h-1zM955 436h1v1h-1zM954 437h1v1h-1zM953 438h1v1h-1zM952 439h1v1h-1zM951 440h1v1h-1zM950 441h1v1h-1zM949 442h1v1h-1zM948 443h1v2h-1zM947 445h1v1h-1zM946 446h1v1h-1zM945 447h1v1h-1zM944 448h1v1h-1zM943 449h1v1h-1zM942 450h1v1h-1zM941 451h1v1h-1zM940 452h1v2h-1zM939 454h1v1h-1zM938 455h1v1h-1zM937 456h1v1h-1zM936 457h1v1h-1zM935 458h1v1h-1zM934 459h1v1h-1zM933 460h1v1h-1zM932 461h1v2h-1zM931 463h1v1h-1zM930 464h1v1h-1zM929 465h1v1h-1zM928 466h1v1h-1zM927 467h1v1h-1zM926 468h1v1h-1zM925 469h1v1h-1zM924 470h1v2h-1zM923 472h1v1h-1zM922 473h1v1h-1zM921 474h1v1h-1zM920 475h1v1h-1zM919 476h1v1h-1zM918 477h1v1h-1zM917 478h1v1h-1zM916 479h1v2h-1zM915 481h1v1h-1zM914 482h1v1h-1zM913 483h1v1h-1zM912 484h1v1h-1zM911 485h1v1h-1zM910 486h1v1h-1zM909 487h1v1h-1zM908 488h1v1h-1zM907 489h1v2h-1zM906 491h1v1h-1zM905 492h1v1h-1zM904 493h1v1h-1zM903 494h1v1h-1zM902 495h1v1h-1zM901 496h1v1h-1zM900 497h1v1h-1zM899 498h1v2h-1zM898 500h1v1h-1zM897 501h1v1h-1zM896 502h1v1h-1zM895 503h1v1h-1zM894 504h1v1h-1zM893 505h1v1h-1zM892 506h1v1h-1zM891 507h1v2h-1zM890 509h1v1h-1zM889 510h1v1h-1zM888 511h1v1h-1zM887 512h1v1h-1zM886 513h1v1h-1zM885 514h1v1h-1zM884 515h1v1h-1zM883 516h1v2h-1zM882 518h1v1h-1zM881 519h1v1h-1zM880 520h1v1h-1zM879 521h1v1h-1zM878 522h1v1h-1zM877 523h1v1h-1zM876 524h1v1h-1zM875 525h1v2h-1zM874 527h1v1h-1zM873 528h1v1h-1zM872 529h1v1h-1zM871 530h1v1h-1zM870 531h1v1h-1zM869 532h1v1h-1zM868 533h1v1h-1zM867 534h1v2h-1zM866 536h1v1h-1zM865 537h1v1h-1zM864 538h1v1h-1zM863 539h1v1h-1zM862 540h1v1h-1zM861 541h1v1h-1zM860 542h1v1h-1zM859 543h1v2h-1zM858 545h1v1h-1zM857 546h1v1h-1zM856 547h1v1h-1zM855 548h1v1h-1zM854 549h1v1h-1zM853 550h1v1h-1zM852 551h1v1h-1zM851 552h1v2h-1zM850 554h1v1h-1zM849 555h1v1h-1zM848 556h1v1h-1zM847 557h1v1h-1zM846 558h1v1h-1zM845 559h1v1h-1zM844 560h1v1h-1zM843 561h1v2h-1zM842 563h1v1h-1zM841 564h1v1h-1zM840 565h1v1h-1zM839 566h1v1h-1zM838 567h1v1h-1zM837 568h1v1h-1zM836 569h1v1h-1zM835 570h1v2h-1zM834 572h1v1h-1zM833 573h1v1h-1zM832 574h1v1h-1zM831 575h1v1h-1zM830 576h1v1h-1zM829 577h1v1h-1zM828 578h1v1h-1zM827 579h1v2h-1zM826 581h1v1h-1zM825 582h1v1h-1zM824 583h1v1h-1zM823 584h1v1h-1zM822 585h1v1h-1zM821 586h1v1h-1zM820 587h1v1h-1zM819 588h1v1h-1zM818 589h1v2h-1zM817 591h1v1h-1zM816 592h1v1h-1zM815 593h1v1h-1zM814 594h1v1h-1zM813 595h1v1h-1zM812 596h1v1h-1zM811 597h1v1h-1zM810 598h1v2h-1zM809 600h1v1h-1zM808 601h1v1h-1zM807 602h1v1h-1zM806 603h1v1h-1zM805 604h1v1h-1zM804 605h1v1h-1zM803 606h1v1h-1zM802 607h1v2h-1zM801 609h1v1h-1zM800 610h1v1h-1zM799 611h1v1h-1zM798 612h1v1h-1zM797 613h1v1h-1zM796 614h1v1h-1zM795 615h1v1h-1zM794 616h1v2h-1zM793 618h1v1h-1zM792 619h1v1h-1zM791 620h1v1h-1zM790 621h1v1h-1zM789 622h1v1h-1zM788 623h1v1h-1zM787 624h1v1h-1zM786 625h1v2h-1zM785 627h1v1h-1zM784 628h1v1h-1zM783 629h1v1h-1zM782 630h1v1h-1zM781 631h1v1h-1zM780 632h1v1h-1zM779 633h1v1h-1zM778 634h1v2h-1zM777 636h1v1h-1zM776 637h1v1h-1zM775 638h1v1h-1zM1442 54h1v1h-1zM1441 55h1v1h-1zM1440 56h1v1h-1zM1439 57h1v2h-1zM1438 59h1v1h-1zM1437 60h1v1h-1zM1436 61h1v1h-1zM1435 62h1v1h-1zM1434 63h1v1h-1zM1433 64h1v1h-1zM1432 65h1v1h-1zM1431 66h1v1h-1zM1430 67h1v2h-1zM1429 69h1v1h-1zM1428 70h1v1h-1zM1427 71h1v1h-1zM1426 72h1v1h-1zM1425 73h1v1h-1zM1424 74h1v1h-1zM1423 75h1v1h-1zM1422 76h1v2h-1zM1421 78h1v1h-1zM1420 79h1v1h-1zM1419 80h1v1h-1zM1418 81h1v1h-1zM1417 82h1v1h-1zM1416 83h1v1h-1zM1415 84h1v1h-1zM1414 85h1v2h-1zM1413 87h1v1h-1zM1412 88h1v1h-1zM1411 89h1v1h-1zM1410 90h1v1h-1zM1409 91h1v1h-1zM1408 92h1v1h-1zM1407 93h1v1h-1zM1406 94h1v1h-1zM1405 95h1v2h-1zM1404 97h1v1h-1zM1403 98h1v1h-1zM1402 99h1v1h-1zM1401 100h1v1h-1zM1400 101h1v1h-1zM1399 102h1v1h-1zM1398 103h1v1h-1zM1397 104h1v2h-1zM1396 106h1v1h-1zM1395 107h1v1h-1zM1394 108h1v1h-1zM1393 109h1v1h-1zM1392 110h1v1h-1zM1391 111h1v1h-1zM1390 112h1v1h-1zM1389 113h1v1h-1zM1388 114h1v2h-1zM1387 116h1v1h-1zM1386 117h1v1h-1zM1385 118h1v1h-1zM1384 119h1v1h-1zM1383 120h1v1h-1zM1382 121h1v1h-1zM1381 122h1v1h-1zM1380 123h1v2h-1zM1379 125h1v1h-1zM1378 126h1v1h-1zM1377 127h1v1h-1zM1376 128h1v1h-1zM1375 129h1v1h-1zM1374 130h1v1h-1zM1373 131h1v1h-1zM1372 132h1v2h-1zM1371 134h1v1h-1zM1370 135h1v1h-1zM1369 136h1v1h-1zM1368 137h1v1h-1zM1367 138h1v1h-1zM1366 139h1v1h-1zM1365 140h1v1h-1zM1364 141h1v1h-1zM1363 142h1v2h-1zM1362 144h1v1h-1zM1361 145h1v1h-1zM1360 146h1v1h-1zM1359 147h1v1h-1zM1358 148h1v1h-1zM1357 149h1v1h-1zM1356 150h1v1h-1zM1355 151h1v2h-1zM1354 153h1v1h-1zM1353 154h1v1h-1zM1352 155h1v1h-1zM1351 156h1v1h-1zM1350 157h1v1h-1zM1349 158h1v1h-1zM1348 159h1v1h-1zM1347 160h1v1h-1zM1346 161h1v2h-1zM1345 163h1v1h-1zM1344 164h1v1h-1zM1343 165h1v1h-1zM1342 166h1v1h-1zM1341 167h1v1h-1zM1340 168h1v1h-1zM1339 169h1v1h-1zM1338 170h1v2h-1zM1337 172h1v1h-1zM1336 173h1v1h-1zM1335 174h1v1h-1zM1334 175h1v1h-1zM1333 176h1v1h-1zM1332 177h1v1h-1zM1331 178h1v1h-1zM1330 179h1v2h-1zM1329 181h1v1h-1zM1328 182h1v1h-1zM1327 183h1v1h-1zM1326 184h1v1h-1zM1325 185h1v1h-1zM1324 186h1v1h-1zM1323 187h1v1h-1zM1322 188h1v1h-1zM1321 189h1v2h-1zM1320 191h1v1h-1zM1319 192h1v1h-1zM1318 193h1v1h-1zM1317 194h1v1h-1zM1316 195h1v1h-1zM1315 196h1v1h-1zM1314 197h1v1h-1zM1313 198h1v2h-1zM1312 200h1v1h-1zM1311 201h1v1h-1zM1310 202h1v1h-1zM1309 203h1v1h-1zM1308 204h1v1h-1zM1307 205h1v1h-1zM1306 206h1v1h-1zM1305 207h1v1h-1zM1304 208h1v2h-1zM1303 210h1v1h-1zM1302 211h1v1h-1zM1301 212h1v1h-1zM1300 213h1v1h-1zM1299 214h1v1h-1zM1298 215h1v1h-1zM1297 216h1v1h-1zM1296 217h1v2h-1zM1295 219h1v1h-1zM1294 220h1v1h-1zM1293 221h1v1h-1zM1292 222h1v1h-1zM1291 223h1v1h-1zM1290 224h1v1h-1zM1289 225h1v1h-1zM1288 226h1v2h-1zM1287 228h1v1h-1zM1286 229h1v1h-1zM1285 230h1v1h-1zM1284 231h1v1h-1zM1283 232h1v1h-1zM1282 233h1v1h-1zM1281 234h1v1h-1zM1280 235h1v1h-1zM1279 236h1v2h-1zM1278 238h1v1h-1zM1277 239h1v1h-1zM1276 240h1v1h-1zM1275 241h1v1h-1zM1274 242h1v1h-1zM1273 243h1v1h-1zM1272 244h1v1h-1zM1271 245h1v2h-1zM1270 247h1v1h-1zM1269 248h1v1h-1zM1268 249h1v1h-1zM1267 250h1v1h-1zM1266 251h1v1h-1zM1265 252h1v1h-1zM1264 253h1v1h-1zM1263 254h1v1h-1zM1262 255h1v2h-1zM1261 257h1v1h-1zM1260 258h1v1h-1zM1259 259h1v1h-1zM1258 260h1v1h-1zM1257 261h1v1h-1zM1256 262h1v1h-1zM1255 263h1v1h-1zM1254 264h1v2h-1zM1253 266h1v1h-1zM1252 267h1v1h-1zM1251 268h1v1h-1zM1250 269h1v1h-1zM1249 270h1v1h-1zM1248 271h1v1h-1zM1247 272h1v1h-1zM1246 273h1v2h-1zM1245 275h1v1h-1zM1244 276h1v1h-1zM1243 277h1v1h-1zM1242 278h1v1h-1zM1241 279h1v1h-1zM1240 280h1v1h-1zM1239 281h1v1h-1zM1238 282h1v1h-1zM1237 283h1v2h-1zM1236 285h1v1h-1zM1235 286h1v1h-1zM1234 287h1v1h-1zM1233 288h1v1h-1zM1232 289h1v1h-1zM1231 290h1v1h-1zM1230 291h1v1h-1zM1229 292h1v2h-1zM1228 294h1v1h-1zM1227 295h1v1h-1zM1226 296h1v1h-1zM1225 297h1v1h-1zM1224 298h1v1h-1zM1223 299h1v1h-1zM1222 300h1v1h-1zM1221 301h1v1h-1zM1220 302h1v2h-1zM1219 304h1v1h-1zM1218 305h1v1h-1zM1217 306h1v1h-1zM1216 307h1v1h-1zM1215 308h1v1h-1zM1214 309h1v1h-1zM1213 310h1v1h-1zM1212 311h1v2h-1zM1211 313h1v1h-1zM1210 314h1v1h-1zM1209 315h1v1h-1zM1208 316h1v1h-1zM1207 317h1v1h-1zM1206 318h1v1h-1zM1205 319h1v1h-1zM1204 320h1v1h-1zM1203 321h1v2h-1zM1202 323h1v1h-1zM1201 324h1v1h-1zM1200 325h1v1h-1zM1199 326h1v1h-1zM1198 327h1v1h-1zM1197 328h1v1h-1zM1196 329h1v1h-1zM1195 330h1v2h-1zM1194 332h1v1h-1zM1193 333h1v1h-1zM1192 334h1v1h-1zM1191 335h1v1h-1zM1190 336h1v1h-1zM1189 337h1v1h-1zM1188 338h1v1h-1zM1187 339h1v2h-1zM1186 341h1v1h-1zM1185 342h1v1h-1zM1184 343h1v1h-1zM1183 344h1v1h-1zM1182 345h1v1h-1zM1181 346h1v1h-1zM1180 347h1v1h-1zM1179 348h1v1h-1zM1178 349h1v2h-1zM1177 351h1v1h-1zM1176 352h1v1h-1zM1175 353h1v1h-1zM1174 354h1v1h-1zM1173 355h1v1h-1zM1172 356h1v1h-1zM1171 357h1v1h-1zM1170 358h1v2h-1zM1169 360h1v1h-1zM1168 361h1v1h-1zM1167 362h1v1h-1zM1166 363h1v1h-1zM1165 364h1v1h-1zM1164 365h1v1h-1zM1163 366h1v1h-1zM1162 367h1v1h-1zM1161 368h1v2h-1zM1160 370h1v1h-1zM1159 371h1v1h-1zM1158 372h1v1h-1zM1157 373h1v1h-1zM1156 374h1v1h-1zM1155 375h1v1h-1zM1154 376h1v1h-1zM1153 377h1v2h-1zM1152 379h1v1h-1zM1151 380h1v1h-1zM1150 381h1v1h-1zM1149 382h1v1h-1zM1148 383h1v1h-1zM1147 384h1v1h-1zM1146 385h1v1h-1zM1145 386h1v2h-1zM1144 388h1v1h-1zM1143 389h1v1h-1zM1142 390h1v1h-1zM1141 391h1v1h-1zM1140 392h1v1h-1zM1139 393h1v1h-1zM1138 394h1v1h-1zM1137 395h1v1h-1zM1136 396h1v2h-1zM1135 398h1v1h-1zM1134 399h1v1h-1zM1133 400h1v1h-1zM1132 401h1v1h-1zM1131 402h1v1h-1zM1130 403h1v1h-1zM1129 404h1v1h-1zM1128 405h1v2h-1zM1127 407h1v1h-1zM1126 408h1v1h-1zM1125 409h1v1h-1zM1124 410h1v1h-1zM1123 411h1v1h-1zM1122 412h1v1h-1zM1121 413h1v1h-1zM1120 414h1v1h-1zM1119 415h1v2h-1zM1118 417h1v1h-1zM1117 418h1v1h-1zM1116 419h1v1h-1zM1115 420h1v1h-1zM1114 421h1v1h-1zM1113 422h1v1h-1zM1112 423h1v1h-1zM1111 424h1v2h-1zM1110 426h1v1h-1zM1109 427h1v1h-1zM1108 428h1v1h-1zM1107 429h1v1h-1z"/>
</g>
<g clip-path="url(#cd)"><rect x="0" y="708" width="7" height="34" fill="#000"/><rect x="16" y="717" width="7" height="25" fill="#000"/><rect x="32" y="723" width="7" height="19" fill="#000"/><rect x="48" y="727" width="7" height="15" fill="#000"/><rect x="64" y="729" width="7" height="13" fill="#000"/><rect x="80" y="737" width="7" height="5" fill="#000"/><rect x="96" y="736" width="7" height="6" fill="#000"/><rect x="112" y="743" width="7" height="3" fill="#000"/><rect x="128" y="743" width="7" height="8" fill="#000"/><rect x="144" y="743" width="7" height="15" fill="#000"/><rect x="160" y="743" width="7" height="21" fill="#000"/><rect x="176" y="743" width="7" height="34" fill="#000"/><rect x="192" y="743" width="7" height="46" fill="#000"/><rect x="208" y="743" width="7" height="60" fill="#000"/><rect x="224" y="743" width="7" height="69" fill="#000"/><rect x="240" y="743" width="7" height="69" fill="#000"/><rect x="256" y="743" width="7" height="67" fill="#000"/><rect x="272" y="743" width="7" height="65" fill="#000"/><rect x="288" y="743" width="7" height="64" fill="#000"/><rect x="304" y="743" width="7" height="57" fill="#000"/><rect x="320" y="743" width="7" height="50" fill="#000"/><rect x="336" y="743" width="7" height="44" fill="#000"/><rect x="352" y="743" width="7" height="42" fill="#000"/><rect x="368" y="743" width="7" height="41" fill="#000"/><rect x="384" y="743" width="7" height="40" fill="#000"/><rect x="400" y="743" width="7" height="35" fill="#000"/><rect x="416" y="743" width="7" height="29" fill="#000"/><rect x="432" y="743" width="7" height="20" fill="#000"/><rect x="448" y="743" width="7" height="15" fill="#000"/><rect x="464" y="743" width="7" height="15" fill="#000"/><rect x="480" y="743" width="7" height="13" fill="#000"/><rect x="496" y="743" width="7" height="14" fill="#000"/><rect x="512" y="743" width="7" height="15" fill="#000"/><rect x="528" y="743" width="7" height="15" fill="#000"/><rect x="544" y="743" width="7" height="10" fill="#000"/><rect x="560" y="743" width="7" height="5" fill="#000"/><rect x="576" y="743" width="7" height="3" fill="#000"/><rect x="592" y="743" width="7" height="1" fill="#000"/><rect x="608" y="740" width="7" height="2" fill="#000"/><rect x="624" y="732" width="7" height="10" fill="#000"/><rect x="640" y="730" width="7" height="12" fill="#000"/><rect x="656" y="729" width="7" height="13" fill="#000"/><rect x="672" y="733" width="7" height="9" fill="#000"/><rect x="688" y="733" width="7" height="9" fill="#000"/><rect x="704" y="732" width="7" height="10" fill="#000"/><rect x="720" y="731" width="7" height="11" fill="#000"/><rect x="736" y="730" width="7" height="12" fill="#000"/><rect x="752" y="738" width="7" height="4" fill="#000"/><rect x="768" y="743" width="7" height="2" fill="#000"/><rect x="816" y="740" width="7" height="2" fill="#000"/><rect x="848" y="737" width="7" height="5" fill="#000"/><rect x="912" y="734" width="7" height="8" fill="#000"/><rect x="928" y="733" width="7" height="9" fill="#000"/><rect x="944" y="729" width="7" height="13" fill="#000"/><rect x="960" y="732" width="7" height="10" fill="#000"/><rect x="976" y="735" width="7" height="7" fill="#000"/><rect x="992" y="739" width="7" height="3" fill="#000"/><rect x="1040" y="743" width="7" height="3" fill="#000"/><rect x="1056" y="743" width="7" height="3" fill="#000"/><rect x="1072" y="743" width="7" height="3" fill="#000"/><rect x="1088" y="743" width="7" height="5" fill="#000"/><rect x="1120" y="736" width="7" height="6" fill="#000"/><rect x="1136" y="730" width="7" height="12" fill="#000"/><rect x="1152" y="723" width="7" height="19" fill="#000"/><rect x="1168" y="715" width="7" height="27" fill="#000"/><rect x="1184" y="709" width="7" height="33" fill="#000"/><rect x="1200" y="708" width="7" height="34" fill="#000"/><rect x="1216" y="700" width="7" height="42" fill="#000"/><rect x="1232" y="689" width="7" height="53" fill="#000"/><rect x="1248" y="679" width="7" height="63" fill="#000"/><rect x="1264" y="671" width="7" height="71" fill="#000"/><rect x="1280" y="667" width="7" height="75" fill="#000"/><rect x="1296" y="664" width="7" height="78" fill="#000"/><rect x="1312" y="657" width="7" height="85" fill="#000"/><rect x="1328" y="651" width="7" height="91" fill="#000"/><polyline points="3,683.3 19,688.5 35,694.5 51,699.5 67,705.3 83,712.5 99,718.6 115,724.5 131,730.5 147,735.5 163,741.5 179,746.5 195,752.3 211,762.5 227,769.8 243,777.7 259,784.2 275,791 291,797.7 307,802.5 323,803.5 339,802.5 355,800.5 371,797.5 387,794.5 403,790.5 419,787.5 435,782.5 451,777.5 467,774.5 483,770.5 499,767.5 515,764.5 531,761.5 547,758.5 563,755.5 579,753.5 595,752.5 611,750.5 627,748.5 643,745.3 659,742.5 675,739.4 691,737.5 707,736.5 723,734.5 739,732.5 755,732.5 771,733.5 787,735.5 803,736.5 819,737.5 835,738.5 851,739.5 867,740.5 883,740.5 899,740.5 915,739.5 931,738.5 947,737.5 963,736.5 979,735.5 995,736.5 1011,736.5 1027,736.5 1043,737.5 1059,738.5 1075,739.5 1091,740.5 1107,743.5 1123,743.5 1139,743.5 1155,739.1 1171,737.2 1187,733.2 1203,728.9 1219,723.6 1235,718 1251,710.8 1267,702.8 1283,695.6 1299,688.4 1315,682.8 1331,676.7" fill="none" stroke="#FF0000" stroke-width="3.2" shape-rendering="crispEdges"/><rect x="3" y="741" width="1441" height="2" fill="#000"/></g>
<g clip-path="url(#cr)"><line x1="4" y1="869.5" x2="1443" y2="869.5" stroke="#C0C0C0" stroke-width="1" stroke-dasharray="3 3" shape-rendering="crispEdges"/><line x1="4" y1="930.5" x2="1443" y2="930.5" stroke="#C0C0C0" stroke-width="1" stroke-dasharray="3 3" shape-rendering="crispEdges"/><polyline points="3,905.7 19,904 35,903.3 51,901.6 67,899.7 83,907.6 99,897.5 115,910 131,908 147,911.7 163,911.7 179,922.7 195,923.2 211,928 227,926.8 243,914.8 259,911.7 275,912 291,913.6 307,904 323,903.5 339,902.8 355,908 371,909.2 387,910.4 403,902 419,899.6 435,891.9 451,896 467,903.7 483,900.8 499,905.6 515,905.6 531,904.4 547,895 563,894 579,895.5 595,895.3 611,893.6 627,881.8 643,892.4 659,892.6 675,903.9 691,896 707,895.5 723,894 739,894 755,911.6 771,910.9 787,896.7 803,896.7 819,897.7 835,900.8 851,891.7 867,899.8 883,899.6 899,898.9 915,888.8 931,895 947,889.3 963,900.8 979,904.6 995,904.6 1011,904.4 1027,900.8 1043,905.6 1059,901.3 1075,901.6 1091,904 1107,896.5 1123,883 1139,883 1155,878.5 1171,874.6 1187,874 1203,884.5 1219,873.4 1235,866.5 1251,864.4 1267,864.1 1283,866.5 1299,866.5 1315,860 1331,859" fill="none" stroke="#1E90FF" stroke-width="2.4" shape-rendering="crispEdges"/></g>
<rect x="2" y="2" width="1442" height="1" fill="#000"/><rect x="2" y="639" width="1442" height="1" fill="#000"/><rect x="2" y="2" width="1" height="638" fill="#000"/><rect x="1443" y="2" width="1" height="638" fill="#000"/>
<rect x="2" y="641" width="1442" height="1" fill="#000"/><rect x="2" y="820" width="1442" height="1" fill="#000"/><rect x="2" y="641" width="1" height="180" fill="#000"/><rect x="1443" y="641" width="1" height="180" fill="#000"/>
<rect x="2" y="822" width="1442" height="1" fill="#000"/><rect x="2" y="976" width="1442" height="1" fill="#000"/><rect x="2" y="822" width="1" height="155" fill="#000"/><rect x="1443" y="822" width="1" height="155" fill="#000"/>
<rect x="1443" y="11" width="1" height="2" fill="#008000"/>
<rect x="1443" y="49" width="1" height="1" fill="#000080"/>
<rect x="1443" y="127" width="1" height="2" fill="#FF0000"/>
<rect x="1443" y="243" width="1" height="2" fill="#FF0000"/>
<rect x="1443" y="304" width="1" height="2" fill="#FF0000"/>
<rect x="1443" y="383" width="1" height="2" fill="#FF0000"/>
<rect x="1444" y="32" width="2" height="1" fill="#000"/>
<text x="1450" y="37" fill="#000" font-size="12.2" textLength="34.875" lengthAdjust="spacingAndGlyphs">41825</text>
<rect x="1444" y="81" width="2" height="1" fill="#000"/>
<text x="1450" y="86" fill="#000" font-size="12.2" textLength="34.875" lengthAdjust="spacingAndGlyphs">41405</text>
<rect x="1444" y="130" width="2" height="1" fill="#000"/>
<rect x="1444" y="179" width="2" height="1" fill="#000"/>
<text x="1450" y="184" fill="#000" font-size="12.2" textLength="34.875" lengthAdjust="spacingAndGlyphs">40560</text>
<rect x="1444" y="228" width="2" height="1" fill="#000"/>
<text x="1450" y="233" fill="#000" font-size="12.2" textLength="34.875" lengthAdjust="spacingAndGlyphs">40140</text>
<rect x="1444" y="277" width="2" height="1" fill="#000"/>
<text x="1450" y="282" fill="#000" font-size="12.2" textLength="34.875" lengthAdjust="spacingAndGlyphs">39715</text>
<rect x="1444" y="326" width="2" height="1" fill="#000"/>
<text x="1450" y="331" fill="#000" font-size="12.2" textLength="34.875" lengthAdjust="spacingAndGlyphs">39295</text>
<rect x="1444" y="375" width="2" height="1" fill="#000"/>
<text x="1450" y="380" fill="#000" font-size="12.2" textLength="34.875" lengthAdjust="spacingAndGlyphs">38870</text>
<rect x="1444" y="424" width="2" height="1" fill="#000"/>
<text x="1450" y="429" fill="#000" font-size="12.2" textLength="34.875" lengthAdjust="spacingAndGlyphs">38450</text>
<rect x="1444" y="473" width="2" height="1" fill="#000"/>
<text x="1450" y="478" fill="#000" font-size="12.2" textLength="34.875" lengthAdjust="spacingAndGlyphs">38030</text>
<rect x="1444" y="522" width="2" height="1" fill="#000"/>
<text x="1450" y="527" fill="#000" font-size="12.2" textLength="34.875" lengthAdjust="spacingAndGlyphs">37605</text>
<rect x="1444" y="571" width="2" height="1" fill="#000"/>
<text x="1450" y="576" fill="#000" font-size="12.2" textLength="34.875" lengthAdjust="spacingAndGlyphs">37185</text>
<rect x="1444" y="620" width="2" height="1" fill="#000"/>
<text x="1450" y="625" fill="#000" font-size="12.2" textLength="34.875" lengthAdjust="spacingAndGlyphs">36760</text>
<rect x="1445" y="6" width="45" height="14" fill="#008000"/>
<text x="1450" y="18" fill="#FFFFFF" font-size="12.2" textLength="34.875" lengthAdjust="spacingAndGlyphs">42000</text>
<rect x="1445" y="42" width="45" height="14" fill="#000000"/>
<text x="1450" y="54" fill="#FFFFFF" font-size="12.2" textLength="34.875" lengthAdjust="spacingAndGlyphs">41685</text>
<rect x="1445" y="122" width="45" height="14" fill="#FF0000"/>
<text x="1450" y="134" fill="#FFFFFF" font-size="12.2" textLength="34.875" lengthAdjust="spacingAndGlyphs">41000</text>
<rect x="1445" y="238" width="45" height="14" fill="#FF0000"/>
<text x="1450" y="250" fill="#FFFFFF" font-size="12.2" textLength="34.875" lengthAdjust="spacingAndGlyphs">40000</text>
<rect x="1445" y="299" width="45" height="14" fill="#FF0000"/>
<text x="1450" y="311" fill="#FFFFFF" font-size="12.2" textLength="34.875" lengthAdjust="spacingAndGlyphs">39480</text>
<rect x="1445" y="378" width="45" height="14" fill="#FF0000"/>
<text x="1450" y="390" fill="#FFFFFF" font-size="12.2" textLength="34.875" lengthAdjust="spacingAndGlyphs">38800</text>
<rect x="1444" y="643" width="2" height="1" fill="#000"/>
<text x="1447" y="655" fill="#000" font-size="12.2" textLength="31.390625" lengthAdjust="spacingAndGlyphs">762.4</text>
<rect x="1444" y="741" width="2" height="1" fill="#000"/>
<rect x="1445" y="735" width="9" height="14" fill="#000"/>
<text x="1446" y="747" fill="#74847a" font-size="12.2" textLength="6.984375" lengthAdjust="spacingAndGlyphs">0</text>
<text x="1454.5" y="747" fill="#000" font-size="12.2" textLength="17.5" lengthAdjust="spacingAndGlyphs">.00</text>
<rect x="1444" y="819" width="2" height="1" fill="#000"/>
<text x="1447" y="817" fill="#000" font-size="12.2" textLength="35.34375" lengthAdjust="spacingAndGlyphs">-593.7</text>
<rect x="1444" y="824" width="2" height="1" fill="#000"/>
<text x="1447" y="836" fill="#000" font-size="12.2" textLength="20.9375" lengthAdjust="spacingAndGlyphs">100</text>
<text x="1446" y="874" fill="#000" font-size="12.2" textLength="13.953125" lengthAdjust="spacingAndGlyphs">70</text>
<text x="1446" y="935" fill="#000" font-size="12.2" textLength="13.953125" lengthAdjust="spacingAndGlyphs">30</text>
<rect x="1444" y="975" width="2" height="1" fill="#000"/>
<text x="1447.5" y="973" fill="#000" font-size="12.2" textLength="6.984375" lengthAdjust="spacingAndGlyphs">0</text>
<rect x="3" y="977" width="1" height="3" fill="#000"/>
<text x="1.7" y="992" fill="#000" font-size="12.2" textLength="61.8" lengthAdjust="spacingAndGlyphs">4 Apr 2024</text>
<rect x="99" y="977" width="1" height="3" fill="#000"/>
<text x="97.7" y="992" fill="#000" font-size="12.2" textLength="69.8" lengthAdjust="spacingAndGlyphs">11 Apr 2024</text>
<rect x="195" y="977" width="1" height="3" fill="#000"/>
<text x="193.7" y="992" fill="#000" font-size="12.2" textLength="70.8" lengthAdjust="spacingAndGlyphs">18 Apr 2024</text>
<rect x="291" y="977" width="1" height="3" fill="#000"/>
<text x="289.7" y="992" fill="#000" font-size="12.2" textLength="70.8" lengthAdjust="spacingAndGlyphs">25 Apr 2024</text>
<rect x="387" y="977" width="1" height="3" fill="#000"/>
<text x="385.7" y="992" fill="#000" font-size="12.2" textLength="64.5" lengthAdjust="spacingAndGlyphs">2 May 2024</text>
<rect x="483" y="977" width="1" height="3" fill="#000"/>
<text x="481.7" y="992" fill="#000" font-size="12.2" textLength="65.5" lengthAdjust="spacingAndGlyphs">9 May 2024</text>
<rect x="579" y="977" width="1" height="3" fill="#000"/>
<text x="577.7" y="992" fill="#000" font-size="12.2" textLength="72.5" lengthAdjust="spacingAndGlyphs">16 May 2024</text>
<rect x="675" y="977" width="1" height="3" fill="#000"/>
<text x="673.7" y="992" fill="#000" font-size="12.2" textLength="72.5" lengthAdjust="spacingAndGlyphs">23 May 2024</text>
<rect x="771" y="977" width="1" height="3" fill="#000"/>
<text x="769.7" y="992" fill="#000" font-size="12.2" textLength="71.5" lengthAdjust="spacingAndGlyphs">30 May 2024</text>
<rect x="867" y="977" width="1" height="3" fill="#000"/>
<text x="865.7" y="992" fill="#000" font-size="12.2" textLength="61" lengthAdjust="spacingAndGlyphs">6 Jun 2024</text>
<rect x="963" y="977" width="1" height="3" fill="#000"/>
<text x="961.7" y="992" fill="#000" font-size="12.2" textLength="69" lengthAdjust="spacingAndGlyphs">13 Jun 2024</text>
<rect x="1059" y="977" width="1" height="3" fill="#000"/>
<text x="1057.7" y="992" fill="#000" font-size="12.2" textLength="68" lengthAdjust="spacingAndGlyphs">20 Jun 2024</text>
<rect x="1155" y="977" width="1" height="3" fill="#000"/>
<text x="1153.7" y="992" fill="#000" font-size="12.2" textLength="68" lengthAdjust="spacingAndGlyphs">27 Jun 2024</text>
<rect x="1251" y="977" width="1" height="3" fill="#000"/>
<text x="1249.7" y="992" fill="#000" font-size="12.2" textLength="57" lengthAdjust="spacingAndGlyphs">4 Jul 2024</text>
<polygon points="6,10 15,10 10.5,15" fill="#000"/>
<text x="7" y="657" fill="#000" font-size="12.2" textLength="156" lengthAdjust="spacingAndGlyphs">MACD(12,26,9) 700.8 504.4</text>
<text x="7" y="838" fill="#000" font-size="12.2" textLength="91" lengthAdjust="spacingAndGlyphs">RSI(14) 77.2185</text></svg></body></html>
